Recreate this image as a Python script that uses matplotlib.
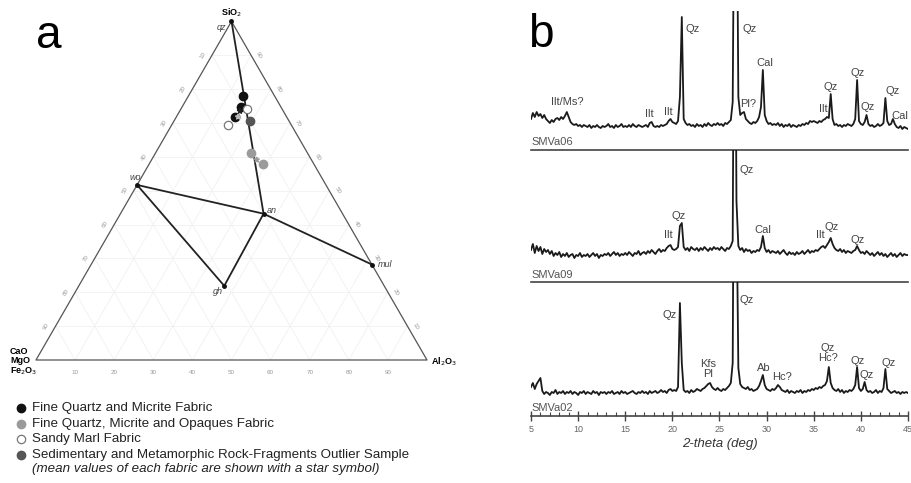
import numpy as np
import matplotlib
matplotlib.use('Agg')
import matplotlib.pyplot as plt
from matplotlib.ticker import MultipleLocator

plt.rcParams['font.family'] = ['Liberation Sans', 'DejaVu Sans']

# ---------------- panel a : ternary data (wt%) ----------------
# components: SiO2 (top), Al2O3 (bottom right), CaO+MgO+Fe2O3 = rest (bottom left)
mineral_names = ['qz', 'wo', 'an', 'mul', 'gh']
mineral_sio2 = [100.0, 51.7, 43.2, 28.2, 21.9]
mineral_al2o3 = [0.0, 0.0, 36.6, 71.8, 37.2]
tie_lines = [('qz', 'an'), ('wo', 'an'), ('an', 'mul'), ('wo', 'gh'), ('gh', 'an')]

fqm_sio2 = [78.0, 74.8, 71.9]          # fine quartz and micrite
fqm_al2o3 = [14.0, 15.0, 15.0]
fqmo_sio2 = [61.2, 57.8]               # fine quartz, micrite and opaques
fqmo_al2o3 = [24.3, 29.2]
marl_sio2 = [74.0, 69.4]               # sandy marl
marl_al2o3 = [17.0, 14.3]
outlier_sio2 = [70.7]                  # rock-fragments outlier
outlier_al2o3 = [19.4]
mean_sio2 = [73.5, 59.1, 71.8]         # fabric means (stars)
mean_al2o3 = [15.4, 26.9, 15.8]

legend_labels = ['Fine Quartz and Micrite Fabric',
                 'Fine Quartz, Micrite and Opaques Fabric',
                 'Sandy Marl Fabric',
                 'Sedimentary and Metamorphic Rock-Fragments Outlier Sample']
grid_steps = [10, 20, 30, 40, 50, 60, 70, 80, 90]

# ---------------- panel b : XRD patterns ----------------
two_theta = np.linspace(5, 45, 201)   # 0.2 deg steps

smva06 = [8, 14, 10, 15, 11, 13, 9, 12, 8, 6,
          4, 7, 5, 8, 9, 7, 10, 8, 11, 15,
          10, 5, 3, 2, 3, 1, 2, 0, 2, 1,
          0, 2, -1, 1, 0, 2, 0, -1, 1, 0,
          1, 3, 0, 1, -1, 2, 0, 1, 3, 0,
          1, 0, 2, 0, 3, 1, 0, 2, 1, 0,
          1, 2, 0, 4, 5, 1, 0, 1, 0, 2,
          1, 2, 3, 6, 8, 5, 4, 3, 6, 30,
          110, 8, 4, 2, 3, 1, 2, 0, 3, 1,
          2, 0, 3, 1, 4, 2, 1, 3, 2, 4,
          2, 3, 1, 4, 3, 5, 7, 25, 300, 300,
          30, 12, 14, 15, 8, 6, 4, 3, 5, 4,
          6, 10, 20, 57, 12, 6, 3, 4, 2, 3,
          2, 4, 1, 3, 0, 2, 1, 3, 0, 2,
          1, 0, 2, 1, 3, 2, 4, 3, 6, 5,
          6, 5, 4, 6, 5, 7, 8, 10, 9, 33,
          8, 2, 3, 1, 2, 0, 2, 1, 3, 2,
          1, 3, 8, 47, 6, 3, 2, 5, 12, 3,
          1, 2, 0, 1, 3, 1, 2, 4, 29, 6,
          2, 3, 8, 3, 0, -1, 1, -2, 0, -1,
          -2]
smva09 = [6, 12, 3, 10, 5, 9, 2, 7, 4, 6,
          2, 5, 0, 3, 1, 4, -1, 2, 0, 3,
          -1, 1, 2, -2, 1, 0, 3, -1, 1, 0,
          2, -1, 1, 3, 0, 2, -2, 1, 0, 2,
          1, 3, 0, 2, 4, 1, 3, 0, 2, 1,
          3, 1, 4, 2, 0, 3, 2, 5, 1, 3,
          4, 2, 5, 3, 6, 4, 2, 5, 7, 4,
          6, 5, 8, 10, 11, 7, 6, 7, 9, 30,
          33, 9, 6, 8, 5, 9, 7, 6, 8, 5,
          8, 6, 9, 7, 5, 8, 6, 9, 7, 8,
          6, 9, 7, 5, 8, 7, 10, 15, 400, 55,
          10, 6, 8, 4, 7, 5, 6, 3, 5, 4,
          6, 5, 9, 20, 8, 4, 6, 3, 5, 4,
          3, 5, 2, 4, 6, 3, 1, 4, 2, 3,
          1, 4, 2, 3, 5, 2, 4, 6, 3, 5,
          4, 6, 5, 7, 9, 10, 8, 11, 14, 18,
          12, 8, 6, 5, 7, 4, 6, 3, 5, 4,
          3, 5, 6, 10, 6, 3, 4, 2, 5, 3,
          1, 3, 0, 2, 4, 1, 3, 0, 2, -1,
          1, 3, 0, 2, -1, 1, 3, 0, 2, 1,
          1]
smva02 = [6, 10, 4, 9, 12, 15, 2, -1, 1, 0,
          -2, 1, 0, 3, -1, 1, 0, 2, -1, 1,
          0, 2, -1, 1, 0, -2, 1, 0, 2, -1,
          1, 0, -1, 2, 0, 1, -2, 1, 0, 1,
          -1, 1, 0, 2, -1, 0, 1, -1, 2, 0,
          1, -1, 0, 1, 2, 0, -1, 1, 0, 2,
          0, 1, -1, 2, 0, 1, 2, 0, 1, 3,
          1, 2, 0, 3, 4, 2, 3, 2, 6, 90,
          30, 3, 1, 2, 0, 3, 1, 2, 4, 3,
          2, 4, 5, 7, 9, 10, 6, 4, 3, 5,
          3, 2, 4, 3, 5, 7, 10, 30, 400, 200,
          25, 9, 6, 5, 4, 6, 3, 4, 2, 3,
          4, 7, 12, 18, 8, 4, 3, 2, 4, 3,
          5, 8, 6, 3, 2, 1, 3, 0, 2, 1,
          0, 2, 1, 3, 0, 2, 1, 3, 2, 4,
          3, 5, 4, 6, 5, 7, 8, 12, 26, 10,
          5, 3, 2, 4, 1, 3, 0, 2, 1, 3,
          2, 4, 8, 26, 5, 2, 4, 11, 3, 1,
          2, 0, 1, 3, 0, 2, 1, 5, 24, 4,
          2, 0, 1, 2, 0, 1, -1, 1, 0, 1,
          0]

sample_names = ['SMVa06', 'SMVa09', 'SMVa02']
patterns = [smva06, smva09, smva02]

# peak labels: text, 2-theta, height
peaks06 = [('Ilt/Ms?', 8.8, 25), ('Ilt', 17.6, 13), ('Ilt', 19.6, 15), ('Qz', 22.2, 98),
           ('Qz', 28.2, 98), ('Pl?', 28.0, 23), ('Cal', 29.8, 64), ('Ilt', 36.0, 18),
           ('Qz', 36.8, 40), ('Qz', 39.7, 54), ('Qz', 40.7, 20), ('Qz', 43.4, 36),
           ('Cal', 44.1, 11)]
peaks09 = [('Ilt', 19.6, 21), ('Qz', 20.7, 40), ('Qz', 27.9, 86), ('Cal', 29.6, 26),
           ('Ilt', 35.7, 21), ('Qz', 36.9, 29), ('Qz', 39.7, 16)]
peaks02 = [('Qz', 19.7, 78), ('Qz', 27.9, 93), ('Kfs\nPl', 23.8, 24), ('Ab', 29.7, 25),
           ('Hc?', 31.6, 16), ('Qz\nHc?', 36.5, 40), ('Qz', 39.7, 32), ('Qz', 40.6, 18),
           ('Qz', 42.9, 30)]
peak_sets = [peaks06, peaks09, peaks02]


def tern(sio2, al2o3):
    s = np.asarray(sio2, dtype=float) / 100
    a = np.asarray(al2o3, dtype=float) / 100
    return a + s / 2, s * np.sqrt(3) / 2


W, H = 912, 483
fig = plt.figure(figsize=(W / 100, H / 100), dpi=100)

# ternary axes: 391 px per unit, origin at pixel (36, 360)
ax = fig.add_axes([0, 0, 460 / W, 1])
ax.set_xlim(-36 / 391, 424 / 391)
ax.set_ylim(-123 / 391, 360 / 391)
ax.axis('off')

gc = '#f1f1f1'
for k in grid_steps:
    for (s0, a0), (s1, a1) in [((k, 0), (k, 100 - k)),
                               ((0, k), (100 - k, k)),
                               ((0, 100 - k), (100 - k, 0))]:
        x, y = tern([s0, s1], [a0, a1])
        ax.plot(x, y, color=gc, lw=0.6, zorder=1)

x, y = tern([100, 0, 0, 100], [0, 0, 100, 0])
ax.plot(x, y, color='#555555', lw=0.9, zorder=2)

# tick labels
for k in grid_steps:
    x, y = tern([0], [k])
    ax.text(x[0], y[0] - 13 / 391, str(k), fontsize=4.5, color='#999999',
            ha='center', va='center')
    x, y = tern([100 - k], [0])
    ax.text(x[0] - 9 / 391, y[0], str(k), fontsize=4.5, color='#999999',
            ha='center', va='center', rotation=60)
    x, y = tern([100 - k], [k])
    ax.text(x[0] + 8 / 391, y[0], str(100 - k), fontsize=4.5, color='#999999',
            ha='center', va='center', rotation=-60)

mx, my = tern(mineral_sio2, mineral_al2o3)
pos = {n: (mx[i], my[i]) for i, n in enumerate(mineral_names)}
for a, b in tie_lines:
    ax.plot([pos[a][0], pos[b][0]], [pos[a][1], pos[b][1]], color='#222222',
            lw=1.3, zorder=3)
ax.plot(mx, my, 'o', color='#111111', ms=2.5, zorder=4)
offs = {'qz': (-10, -6), 'wo': (-2, 7), 'an': (8, 3), 'mul': (13, 0), 'gh': (-6, -6)}
for n in mineral_names:
    ax.annotate(n, pos[n], xytext=offs[n], textcoords='offset pixels', fontsize=6.5,
                style='italic', color='#444444', ha='center', va='center')

x, y = tern(fqm_sio2, fqm_al2o3)
ax.plot(x, y, 'o', ms=6, mfc='#111111', mec='#111111', zorder=5)
x, y = tern(fqmo_sio2, fqmo_al2o3)
ax.plot(x, y, 'o', ms=6, mfc='#9a9a9a', mec='#9a9a9a', zorder=5)
x, y = tern(marl_sio2, marl_al2o3)
ax.plot(x, y, 'o', ms=6, mfc='white', mec='#777777', mew=0.9, zorder=5)
x, y = tern(outlier_sio2, outlier_al2o3)
ax.plot(x, y, 'o', ms=6, mfc='#555555', mec='#555555', zorder=5)
x, y = tern(mean_sio2, mean_al2o3)
ax.scatter(x, y, marker='*', s=14, c=['#222222', '#9a9a9a', '#bbbbbb'], zorder=6)

ax.text(0.5, 0.866 + 9 / 391, 'SiO$_2$', fontsize=6.5, weight='bold',
        ha='center', va='center')
ax.text(-26 / 391, -2 / 391, 'CaO\nMgO\nFe$_2$O$_3$', fontsize=6.5, weight='bold',
        ha='left', va='center', linespacing=1.0)
ax.text(1 + 4 / 391, -2 / 391, 'Al$_2$O$_3$', fontsize=6.5, weight='bold',
        ha='left', va='center')

# legend, pixel coordinates
lg = fig.add_axes([0, 0, 460 / W, 1])
lg.set_xlim(0, 460)
lg.set_ylim(H, 0)
lg.axis('off')
lg.patch.set_visible(False)
styles = [dict(mfc='#111111', mec='#111111'), dict(mfc='#9a9a9a', mec='#9a9a9a'),
          dict(mfc='white', mec='#777777', mew=0.9), dict(mfc='#555555', mec='#555555')]
for i, lab in enumerate(legend_labels):
    yy = 408 + 15.7 * i
    lg.plot([21], [yy], 'o', ms=6, **styles[i])
    lg.text(32, yy, lab, fontsize=9.6, color='#222222', va='center')
lg.text(32, 469, '(mean values of each fabric are shown with a star symbol)',
        fontsize=9.6, style='italic', color='#222222', va='center')

fig.text(48.5 / W, 1 - 48 / H, 'a', fontsize=33, ha='center', va='baseline')
fig.text(528 / W, 1 - 47 / H, 'b', fontsize=33, ha='left', va='baseline')

# ---------------- XRD axes ----------------
x0, x1 = 531, 908
bands = [(11, 150, 127), (150, 282, 256), (282, 416, 393)]   # top, bottom, baseline px
for i, (top, bot, base) in enumerate(bands):
    axb = fig.add_axes([x0 / W, 1 - bot / H, (x1 - x0) / W, (bot - top) / H])
    axb.plot(two_theta, patterns[i], color='#1a1a1a', lw=1.3)
    axb.set_xlim(5, 45)
    axb.set_ylim(base - bot, base - top)
    axb.patch.set_visible(False)
    for s in ['top', 'left', 'right']:
        axb.spines[s].set_visible(False)
    axb.spines['bottom'].set_color('#444444')
    axb.spines['bottom'].set_linewidth(1.2)
    axb.set_yticks([])
    axb.text(5, -15 if i != 1 else -19, sample_names[i], fontsize=8, color='#555555',
             ha='left', va='center')
    for lab, px, ph in peak_sets[i]:
        axb.text(px, ph, lab, fontsize=8, color='#444444', ha='center', va='center',
                 linespacing=1.05)
    if i < 2:
        axb.set_xticks([])
    else:
        axb.xaxis.set_major_locator(MultipleLocator(5))
        axb.xaxis.set_minor_locator(MultipleLocator(1))
        axb.tick_params(axis='x', which='major', direction='inout', length=7,
                        width=1.0, color='#444444', labelsize=6.5, labelcolor='#666666',
                        pad=3)
        axb.tick_params(axis='x', which='minor', direction='in', length=3,
                        width=0.8, color='#444444')
        axb.set_xlabel('2-theta (deg)', fontsize=9.5, style='italic', color='#333333',
                       labelpad=3)

fig.savefig('out.png', dpi=100)
